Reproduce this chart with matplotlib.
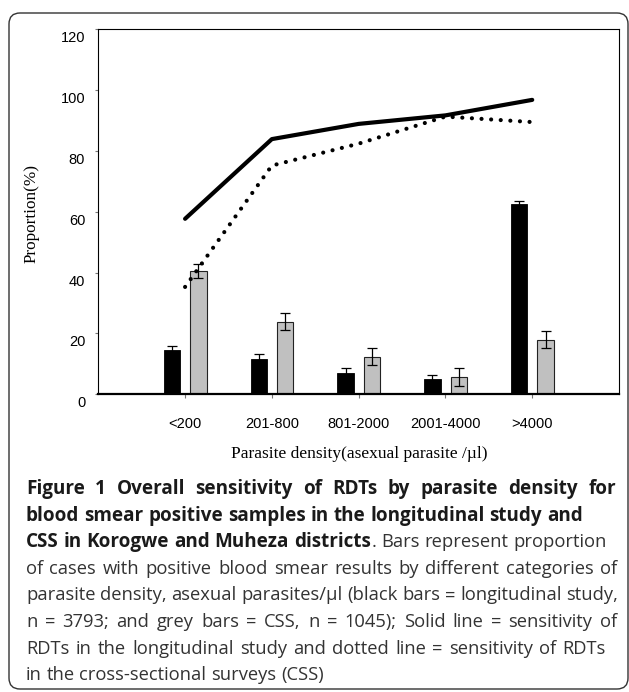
import matplotlib
matplotlib.use("Agg")
import matplotlib.pyplot as plt
import numpy as np
from matplotlib.patches import FancyBboxPatch
from matplotlib.transforms import ScaledTranslation

categories = ["<200", "201-800", "801-2000", "2001-4000", ">4000"]
long_bar = [14.6, 11.7, 7.1, 4.9, 62.7]
long_err = [1.4, 1.4, 1.5, 1.5, 0.9]
css_bar = [40.5, 23.9, 12.4, 5.8, 18.0]
css_err = [2.4, 2.8, 2.9, 3.0, 2.8]
long_sens = [57.7, 83.9, 88.9, 91.7, 96.8]
css_sens = [35.3, 75.2, 82.4, 91.3, 89.5]

# caption lines: (pieces, right edge to spread the words to, or None)
caption = [
    ([("Figure 1 Overall sensitivity of RDTs by parasite density for", True)], 616),
    ([("blood smear positive samples in the longitudinal study and", True)], None),
    ([("CSS in Korogwe and Muheza districts", True), (". Bars represent proportion", False)], None),
    ([("of cases with positive blood smear results by different categories of", False)], 617),
    ([("parasite density, asexual parasites/\u00b5l (black bars = longitudinal study,", False)], 618),
    ([("n = 3793; and grey bars = CSS, n = 1045); Solid line = sensitivity of", False)], 617),
    ([("RDTs in the longitudinal study and dotted line = sensitivity of RDTs", False)], 606),
    ([("in the cross-sectional surveys (CSS)", False)], None),
]

W, H = 629, 692
fig = plt.figure(figsize=(W / 100, H / 100), dpi=100)

# rounded frame around the whole figure
frame = FancyBboxPatch((0.09, 0.03), 6.19, 6.76,
                       boxstyle="round,pad=0,rounding_size=0.11",
                       transform=fig.dpi_scale_trans,
                       facecolor="none", edgecolor="#333333", linewidth=1.0)
fig.add_artist(frame)

ax = fig.add_axes([98.3 / W, 1 - 394.3 / H, (619 - 98.3) / W, (394.3 - 29.3) / H])

x = np.arange(1, len(categories) + 1)
bw = 0.19
ax.bar(x - 0.15, long_bar, bw, color="black", edgecolor="black", linewidth=0.6,
       yerr=long_err, error_kw=dict(ecolor="black", elinewidth=0.9, capsize=3.8, capthick=0.9),
       zorder=2)
ax.bar(x + 0.154, css_bar, bw, color="#c0c0c0", edgecolor="#222222", linewidth=0.8,
       yerr=css_err, error_kw=dict(ecolor="black", elinewidth=0.9, capsize=3.8, capthick=0.9),
       zorder=2)

ax.plot(x, long_sens, color="black", linewidth=3.0, solid_capstyle="round", zorder=3)
ax.plot(x, css_sens, color="black", linewidth=3.0, linestyle=(0, (0.01, 2.3)),
        dash_capstyle="round", zorder=3)

ax.set_xlim(0, 6)
ax.set_ylim(0, 120)
ax.set_xticks(x)
ax.set_xticklabels(categories)
ax.set_yticks(np.arange(0, 121, 20))

for s in ["top", "right", "left"]:
    ax.spines[s].set_linewidth(0.8)
    ax.spines[s].set_color("black")
ax.spines["bottom"].set_linewidth(1.6)

ax.tick_params(axis="y", direction="out", length=2.4, width=0.8, color="#777777",
               pad=7, labelsize=10.5)
ax.tick_params(axis="x", direction="out", length=3, width=0.8, color="#777777",
               pad=13, labelsize=10.5)
for lbl in ax.get_xticklabels() + ax.get_yticklabels():
    lbl.set_family("Liberation Sans")

off = ScaledTranslation(0, -0.075, fig.dpi_scale_trans)
for t in ax.yaxis.get_major_ticks():
    t.label1.set_transform(t.label1.get_transform() + off)

fig.text(32 / W, 1 - 213 / H, "Proportion(%)", rotation=90, ha="center", va="center",
         family="Liberation Serif", fontsize=12.3)
fig.text(359 / W, 1 - 454 / H, "Parasite density(asexual parasite /\u00b5l)",
         ha="center", va="center", family="Liberation Serif", fontsize=12.5)

# caption, placed word by word so some lines can be justified
renderer = fig.canvas.get_renderer()
SIZE = {True: 13.6, False: 13.2}
COL = {True: "#1a1a1a", False: "#333333"}


def mk(s, bold, xpix, ypix):
    return fig.text(xpix / W, 1 - ypix / H, s, ha="left", va="baseline",
                    family="Open Sans", fontsize=SIZE[bold], color=COL[bold],
                    fontweight="bold" if bold else "normal")


def width(s, bold):
    t = mk(s, bold, 0, 0)
    w = t.get_window_extent(renderer).width
    t.remove()
    return w


x0 = 26
base0, dy = 494, 26.6
for i, (parts, right) in enumerate(caption):
    ypix = base0 + i * dy
    extra = 0
    if right is not None:
        txt, bold = parts[0]
        n = len(txt.split(" "))
        extra = ((right - x0) - width(txt, bold)) / (n - 1)
    start = x0
    for txt, bold in parts:
        words = txt.split(" ")
        for k, w in enumerate(words):
            if not w:
                continue
            # left edge of word k as laid out inside the whole piece
            left = width(" ".join(words[:k + 1]).lstrip(), bold) - width(w, bold)
            mk(w, bold, start + left + k * extra, ypix)
        start += width(txt, bold) + 0.8

fig.savefig("out.png", dpi=100)
